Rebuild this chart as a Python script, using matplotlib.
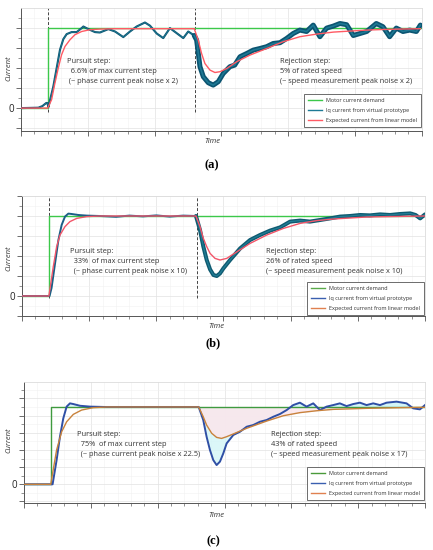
import matplotlib
matplotlib.use("Agg")
import matplotlib.pyplot as plt
import numpy as np
from matplotlib.ticker import MultipleLocator, FuncFormatter
from matplotlib.lines import Line2D

plt.rcParams['font.family'] = ['Open Sans', 'DejaVu Sans']

# ---------------- data ----------------
demand_t = [0, 2, 2, 30]
demand_a = [0, 0, 4, 4]
demand_b = [0, 0, 4, 4]
demand_c = [0, 0, 4.5, 4.5]
step_time = 2
dist_time = 13
step_c = 4.5

# panel (a)
iq_a_t = [0, 1.3, 1.6, 1.9, 1.98, 2.05, 2.42, 2.67, 2.92, 3.17, 3.42, 3.79, 4.17, 4.54, 4.67,
          5.04, 5.54, 5.91, 6.54, 7.04, 7.66, 8.16, 8.66, 9.28, 9.66, 10.16, 10.65, 11.15,
          11.65, 12.15, 12.52, 12.97, 13.15, 13.4, 13.65, 14.02, 14.39, 14.77, 15.14, 15.64,
          16.0, 16.4, 16.9, 17.39, 17.89, 18.39, 18.88, 19.39, 19.88, 20.38, 20.88, 21.38,
          21.88, 22.38, 22.88, 23.38, 23.88, 24.38, 24.88, 25.38, 25.88, 26.6, 27.1, 27.6,
          28.1, 28.6, 29.1, 29.6, 29.9]
iq_a_v = [0, 0.02, 0.1, 0.26, 0.25, 0.05, 1.08, 2.0, 2.92, 3.45, 3.7, 3.8, 3.8, 4.0, 4.08,
          3.95, 3.8, 3.78, 3.95, 3.83, 3.55, 3.83, 4.08, 4.28, 4.12, 3.73, 3.5, 4.0,
          3.75, 3.5, 3.83, 3.63, 3.4, 2.07, 1.57, 1.27, 1.15, 1.32, 1.73, 2.07,
          2.15, 2.57, 2.73, 2.9, 2.98, 3.07, 3.23, 3.27, 3.48, 3.73, 3.9, 3.83,
          4.15, 3.57, 4.0, 4.1, 4.23, 4.17, 3.63, 3.73, 3.83, 4.23, 4.07, 3.57,
          4.0, 3.83, 3.9, 3.83, 4.15]
ex_a_t = [0, 2.0, 2.29, 2.54, 2.79, 3.04, 3.29, 3.67, 4.04, 4.54, 5.16, 5.9, 7.0, 12.97,
          13.27, 13.52, 13.77, 14.15, 14.52, 14.9, 15.4, 16.15, 17.14, 18.39, 19.63, 20.88,
          22.13, 23.38, 24.6, 25.88, 27.1, 28.3, 29.9]
ex_a_v = [0, 0, 0.42, 1.25, 2.0, 2.67, 3.08, 3.42, 3.67, 3.83, 3.92, 3.95, 3.97, 3.97,
          3.4, 2.73, 2.23, 1.9, 1.78, 1.82, 1.98, 2.32, 2.65, 2.98, 3.32, 3.57,
          3.7, 3.8, 3.85, 3.9, 3.93, 3.95, 3.97]

# panel (b)
iq_b_t = [0, 2.05, 2.2, 2.46, 2.71, 2.95, 3.2, 3.45, 3.7, 4.2, 4.82, 5.8, 7.0, 8.0, 9.0, 10.0,
          11.0, 12.0, 12.95, 13.25, 13.5, 13.75, 14.0, 14.25, 14.5, 14.74, 14.99, 15.49,
          16.24, 16.98, 17.72, 18.47, 19.21, 19.96, 20.7, 21.44, 22.19, 22.93, 23.68, 24.42,
          25.17, 25.9, 26.66, 27.4, 28.15, 28.9, 29.3, 29.64, 30]
iq_b_v = [0, 0, 0.4, 1.63, 2.8, 3.55, 3.97, 4.12, 4.1, 4.05, 4.02, 4.0, 3.96, 4.02, 3.98, 4.03,
          3.97, 4.02, 4.0, 3.3, 2.47, 1.8, 1.33, 1.05, 1.0, 1.13, 1.38, 1.8,
          2.38, 2.8, 3.05, 3.27, 3.43, 3.72, 3.77, 3.72, 3.8, 3.88, 3.97, 4.0,
          4.05, 4.03, 4.08, 4.05, 4.1, 4.13, 4.05, 3.88, 4.08]
ex_b_t = [0, 2.0, 2.33, 2.58, 2.83, 3.2, 3.57, 4.07, 4.82, 5.8, 12.95, 13.25, 13.5, 13.75,
          14.0, 14.37, 14.74, 15.24, 15.74, 16.98, 18.22, 19.46, 20.7, 21.94, 23.18, 25.66,
          28.15, 30]
ex_b_v = [0, 0, 1.47, 2.47, 3.05, 3.47, 3.72, 3.88, 3.97, 4.0, 4.0, 3.47, 2.88, 2.47,
          2.13, 1.88, 1.8, 1.88, 2.1, 2.63, 3.05, 3.38, 3.63, 3.77, 3.85, 3.95,
          3.98, 4.0]

# panel (c)
iq_c_t = [0, 2.14, 2.44, 2.69, 2.94, 3.19, 3.44, 3.69, 4.19, 4.94, 6.0, 13.07, 13.41, 13.66,
          13.91, 14.16, 14.41, 14.66, 14.91, 15.16, 15.66, 16.16, 16.66, 17.15, 17.65, 18.15,
          18.65, 19.15, 19.65, 20.14, 20.64, 21.14, 21.64, 22.14, 22.64, 23.13, 23.63, 24.13,
          24.63, 25.13, 25.63, 26.13, 26.63, 27.13, 27.87, 28.62, 29.12, 29.62, 30]
iq_c_v = [0, 0, 1.41, 2.77, 3.84, 4.52, 4.71, 4.67, 4.57, 4.52, 4.5, 4.5, 3.74, 2.77,
          2.0, 1.41, 1.12, 1.32, 1.8, 2.38, 2.87, 3.06, 3.35, 3.45, 3.64, 3.74,
          3.93, 4.09, 4.32, 4.61, 4.75, 4.52, 4.71, 4.32, 4.52, 4.61, 4.71, 4.55,
          4.67, 4.75, 4.61, 4.71, 4.61, 4.75, 4.81, 4.71, 4.42, 4.36, 4.61]
ex_c_t = [0, 2.0, 2.44, 2.82, 3.19, 3.69, 4.31, 5.18, 6.2, 13.07, 13.41, 13.66, 14.04, 14.41,
          14.78, 15.16, 15.66, 16.66, 18.15, 19.4, 20.64, 21.89, 23.13, 25.63, 28.12, 30]
ex_c_v = [0, 0, 2.0, 3.06, 3.64, 4.07, 4.32, 4.46, 4.5, 4.5, 3.93, 3.45, 2.97, 2.73,
          2.67, 2.77, 2.93, 3.26, 3.68, 3.99, 4.17, 4.28, 4.36, 4.42, 4.46, 4.48]

labels = ["Motor current demand", "Iq current from virtual prototype",
          "Expected current from linear model"]

pursuit_a = ["Pursuit step:", "  6.6% of max current step", " (~ phase current peak noise x 2)"]
reject_a = ["Rejection step:", "5% of rated speed", "(~ speed measurement peak noise x 2)"]
pursuit_b = ["Pursuit step:", "  33%  of max current step", "  (~ phase current peak noise x 10)"]
reject_b = ["Rejection step:", "26% of rated speed", "(~ speed measurement peak noise x 10)"]
pursuit_c = ["Pursuit step:", "  75%  of max current step", "  (~ phase current peak noise x 22.5)"]
reject_c = ["Rejection step:", "43% of rated speed", "(~ speed measurement peak noise x 17)"]

# ---------------- figure ----------------
fig = plt.figure(figsize=(4.33, 5.5), dpi=100)
W, H = 433, 550


def axes_px(x0, x1, y0, y1):
    return fig.add_axes([x0 / W, 1 - y1 / H, (x1 - x0) / W, (y1 - y0) / H])


def style(ax, ylo, yhi, box, cur_px, time_px):
    x0, x1, y0, y1 = box
    ax.set_xlim(0, 30)
    ax.set_ylim(ylo, yhi)
    ax.xaxis.set_major_locator(MultipleLocator(5))
    ax.xaxis.set_minor_locator(MultipleLocator(1))
    ax.yaxis.set_major_locator(MultipleLocator(1))
    ax.yaxis.set_minor_locator(MultipleLocator(0.5))
    ax.xaxis.set_major_formatter(FuncFormatter(lambda v, p: ""))
    ax.yaxis.set_major_formatter(FuncFormatter(lambda v, p: "0" if abs(v) < 1e-9 else ""))
    ax.tick_params(which='major', direction='out', length=3.5, width=0.6, color='#555555',
                   labelsize=7, labelcolor='#222222', pad=1.5)
    ax.tick_params(which='minor', direction='out', length=2, width=0.5, color='#666666')
    ax.grid(which='major', color='#e2e2e2', lw=0.5)
    ax.grid(which='minor', color='#f1f1f1', lw=0.4)
    ax.set_axisbelow(True)
    for s in ['left', 'bottom']:
        ax.spines[s].set_color('#555555')
        ax.spines[s].set_linewidth(0.7)
    for s in ['top', 'right']:
        ax.spines[s].set_color('#dcdcdc')
        ax.spines[s].set_linewidth(0.6)
    ax.set_ylabel("Current", fontsize=5.5, style='italic', color='#333333', va='center')
    ax.set_xlabel("Time", fontsize=5.5, style='italic', color='#333333', va='center')
    ax.yaxis.set_label_coords((cur_px[0] - x0) / (x1 - x0), (y1 - cur_px[1]) / (y1 - y0))
    ax.xaxis.set_label_coords((time_px[0] - x0) / (x1 - x0), (y1 - time_px[1]) / (y1 - y0))


def texts(ax, lines, x, y0, dy):
    for i, s in enumerate(lines):
        ax.text(x, y0 - i * dy, s, fontsize=5.3, color='#333333', va='center', ha='left')


def legend(ax, colors, anchor):
    handles = [Line2D([0], [0], color=c, lw=1.0) for c in colors]
    lg = ax.legend(handles, labels, loc='lower right', bbox_to_anchor=anchor, borderaxespad=0,
                   fontsize=4.0, frameon=True, fancybox=False, framealpha=1,
                   edgecolor='#555555', handlelength=2.6, handletextpad=0.7,
                   labelspacing=0.95, borderpad=0.7)
    lg.get_frame().set_linewidth(0.6)
    for t in lg.get_texts():
        t.set_color('#333333')


# ---- (a) ----
box = (21, 421.7, 8.3, 130.7)
ax = axes_px(*box)
style(ax, -1.13, 4.99, box, (8.5, 68), (212, 141.7))
ax.vlines([step_time, dist_time], -0.2, 4.99, colors='#444444', lw=0.7,
          linestyles=(0, (3, 2)), zorder=2)
ax.plot(demand_t, demand_a, color='#3cc84a', lw=1.0, zorder=3)
n = iq_a_t.index(12.97)
ax.plot(iq_a_t, iq_a_v, color='#0d5570', lw=1.5, zorder=4)
ax.plot(iq_a_t, iq_a_v, color='#1e7a95', lw=0.5, zorder=4)
ax.plot(iq_a_t[n:], iq_a_v[n:], color='#0b5471', lw=3.6, zorder=4, solid_capstyle='round')
ax.plot(iq_a_t[n:], iq_a_v[n:], color='#1d7893', lw=1.2, zorder=4)
ax.plot(ex_a_t, ex_a_v, color='#ff5a64', lw=1.0, zorder=5)
texts(ax, pursuit_a, 3.45, 2.35, 0.5)
texts(ax, reject_a, 19.4, 2.35, 0.5)
legend(ax, ['#3cc84a', '#1e7a95', '#ff5a64'], (0.998, 0.03))
fig.text(212 / W, 1 - 165 / H, "(a)", fontsize=9, family='Liberation Serif',
         fontweight='bold', ha='center', va='center')

# ---- (b) ----
box = (22, 425, 196, 316)
ax = axes_px(*box)
style(ax, -1, 5, box, (8.5, 258), (216.7, 327))
ax.vlines([step_time, dist_time], -0.1, 5, colors='#444444', lw=0.7,
          linestyles=(0, (3, 2)), zorder=2)
ax.plot(demand_t, demand_b, color='#3cc84a', lw=1.0, zorder=3)
n = iq_b_t.index(12.95)
ax.plot(iq_b_t, iq_b_v, color='#1a5f86', lw=1.4, zorder=4)
ax.plot(iq_b_t[n:], iq_b_v[n:], color='#0f5a70', lw=2.9, zorder=4, solid_capstyle='round')
ax.plot(iq_b_t[n:], iq_b_v[n:], color='#217d96', lw=0.9, zorder=4)
ax.plot(ex_b_t, ex_b_v, color='#f2566a', lw=1.0, zorder=5)
texts(ax, pursuit_b, 3.6, 2.25, 0.5)
texts(ax, reject_b, 18.15, 2.25, 0.5)
legend(ax, ['#5aaa4a', '#3a5fb0', '#e08050'], (0.9975, 0.008))
fig.text(213 / W, 1 - 343 / H, "(b)", fontsize=9, family='Liberation Serif',
         fontweight='bold', ha='center', va='center')

# ---- (c) ----
box = (24, 425, 381.7, 502.7)
ax = axes_px(*box)
style(ax, -1.07, 5.97, box, (8.5, 440), (216.7, 515.7))
tc = np.array(iq_c_t)
te = np.array(ex_c_t)
iqc = np.array(iq_c_v)
exc = np.array(ex_c_v)
# shading: above-demand overshoot (cyan) and rejection dip (cyan under pink)
ax.fill_between(tc, step_c, iqc, where=(tc >= 2.9) & (iqc >= step_c), interpolate=True,
                color='#d2f5f7', alpha=0.8, lw=0, zorder=1)
ax.fill_between(tc, step_c, iqc, where=tc >= 13.0, interpolate=True,
                color='#d2f5f7', alpha=0.8, lw=0, zorder=1)
ax.fill_between(te, step_c, exc, where=te >= 13.0, color='#fce6ec', alpha=0.85,
                lw=0, zorder=1.5)
ax.plot(demand_t, demand_c, color='#3f9a3f', lw=1.0, zorder=3)
ax.plot(iq_c_t, iq_c_v, color='#2f4fa5', lw=1.4, zorder=4)
ax.plot(ex_c_t, ex_c_v, color='#c8823c', lw=1.0, zorder=5)
texts(ax, pursuit_c, 4.0, 2.9, 0.58)
texts(ax, reject_c, 18.5, 2.9, 0.58)
legend(ax, ['#4a9a3a', '#3a5fb0', '#e08050'], (0.9975, 0.022))
fig.text(213 / W, 1 - 541.7 / H, "(c)", fontsize=9, family='Liberation Serif',
         fontweight='bold', ha='center', va='center')

fig.savefig("out.png", dpi=100)
